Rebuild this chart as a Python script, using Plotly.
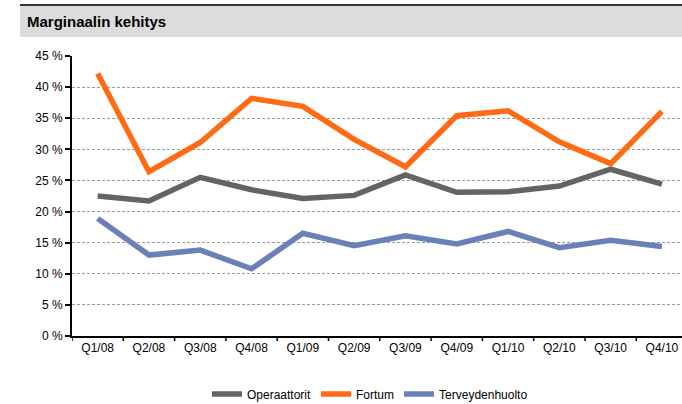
import plotly.graph_objects as go

categories = ["Q1/08", "Q2/08", "Q3/08", "Q4/08", "Q1/09", "Q2/09",
              "Q3/09", "Q4/09", "Q1/10", "Q2/10", "Q3/10", "Q4/10"]
operaattorit = [22.5, 21.7, 25.5, 23.5, 22.1, 22.6, 25.9, 23.1, 23.2, 24.1, 26.8, 24.4]
fortum = [42.2, 26.4, 31.1, 38.2, 36.9, 31.6, 27.2, 35.4, 36.2, 31.2, 27.7, 36.1]
terveydenhuolto = [18.9, 13.0, 13.8, 10.8, 16.5, 14.5, 16.1, 14.8, 16.8, 14.2, 15.4, 14.4]
y_ticks = [0, 5, 10, 15, 20, 25, 30, 35, 40, 45]
y_ticklabels = [f"{v} %" for v in y_ticks]

W, H = 682, 404
ml, mr, mt, mb = 72, 0, 56, 68
ph = H - mt - mb
pw = W - ml - mr

fig = go.Figure()
series = [("Operaattorit", operaattorit, "#646464"),
          ("Fortum", fortum, "#FF6A13"),
          ("Terveydenhuolto", terveydenhuolto, "#6A80B9")]
for name, vals, col in series:
    fig.add_trace(go.Scatter(
        x=list(range(len(categories))), y=vals, name=name, mode="lines",
        line=dict(color=col, width=5.5), hoverinfo="skip"))

font_main = "Arial, Liberation Sans, sans-serif"
fig.update_layout(
    width=W, height=H,
    margin=dict(l=ml, r=mr, t=mt, b=mb),
    paper_bgcolor="white", plot_bgcolor="white",
    font=dict(family=font_main, size=12, color="#000000"),
    showlegend=True,
    legend=dict(orientation="h", xref="container", yref="container",
                x=370 / W, xanchor="center", y=(H - 394) / H, yanchor="middle",
                font=dict(size=12, family=font_main), itemwidth=30,
                traceorder="normal", tracegroupgap=0),
    title=dict(text="<b>Marginaalin kehitys</b>", xref="container", yref="container",
               x=27 / W, xanchor="left", y=(H - 22) / H, yanchor="middle",
               font=dict(family=font_main, size=15, color="#000000")),
    xaxis=dict(
        tickmode="array", tickvals=list(range(len(categories))), ticktext=categories,
        range=[-0.5, -0.5 + pw / 51.3], showgrid=False, zeroline=False,
        showline=True, linecolor="#000000", linewidth=2,
        ticks="", tickfont=dict(size=12), fixedrange=True),
    yaxis=dict(
        tickmode="array", tickvals=y_ticks, ticktext=y_ticklabels,
        range=[0, 45], showgrid=True, gridcolor="#9a9a9a", griddash="3px,2px", gridwidth=1,
        zeroline=False, showline=True, linecolor="#000000", linewidth=2,
        ticks="outside", ticklen=5, tickwidth=1.5, tickcolor="#000000",
        tickfont=dict(size=12), fixedrange=True),
)

# category boundary tick marks on x axis (at boundaries between categories)
for i in range(len(categories) + 1):
    xb = i - 0.5
    fig.add_shape(type="line", xref="x", yref="paper", x0=xb, x1=xb,
                  y0=0, y1=-5 / ph, line=dict(color="#000000", width=1.5))

# title band
fig.add_shape(type="rect", xref="paper", yref="paper",
              x0=(20 - ml) / pw, x1=1.0,
              y0=(H - mb - 37) / ph, y1=(H - mb - 5) / ph,
              fillcolor="#DCDCDC", line=dict(width=0), layer="below")
fig.add_shape(type="line", xref="paper", yref="paper",
              x0=(20 - ml) / pw, x1=1.0,
              y0=(H - mb - 5) / ph, y1=(H - mb - 5) / ph,
              line=dict(color="#333333", width=2))

fig.write_html("out.html", config={"displayModeBar": False},
               post_script="document.body.style.margin='0';document.body.style.padding='0';")
